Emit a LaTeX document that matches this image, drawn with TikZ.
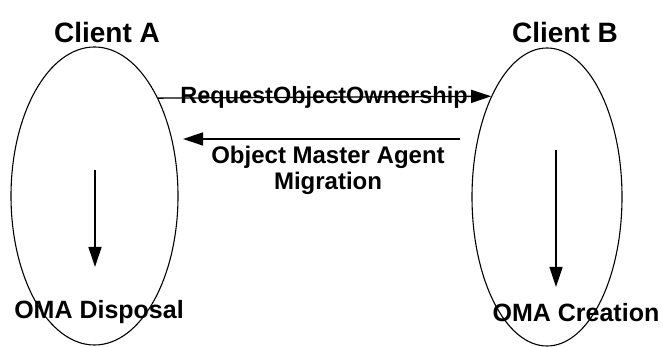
\documentclass[tikz,border=0pt]{standalone}
\usepackage{fontspec}
\setmainfont{Liberation Sans}
\usetikzlibrary{shapes.geometric,arrows.meta}
\begin{document}
\begin{tikzpicture}[x=1pt,y=1pt,
  client/.style={draw,line width=1.1pt,ellipse,inner sep=0pt},
  title/.style={font=\bfseries\fontsize{28}{30}\selectfont},
  label/.style={font=\bfseries\fontsize{24}{26}\selectfont,inner sep=0pt,align=center},
  flow/.style={line width=1.3pt,-{Triangle[length=20pt,width=13pt]}}]
  \useasboundingbox (0,0) rectangle (663,347);

  % the two clients
  \node[client,minimum width=167pt,minimum height=298pt] (A) at (94.5,151) {};
  \node[client,minimum width=150pt,minimum height=298pt] (B) at (547,150) {};
  \node[title] (tA) at (107,315) {Client A};
  \node[title] (tB) at (565,315) {Client B};

  % ownership request, A to B
  \node[label,font=\bfseries\fontsize{23.5}{26}\selectfont] (req) at (324,250) {RequestObjectOwnership};
  \draw[flow] (A.57.7) -- (B.119.2);

  % migration of the master agent, B to A
  \coordinate (mFrom) at (460,208);
  \coordinate (mTo) at (183,208);
  \draw[flow] (mFrom) -- (mTo);
  \node[label] (mig) at (328,177) {Object Master Agent\\Migration};

  % local steps inside each client
  \node[label,font=\bfseries\fontsize{25}{27}\selectfont] (disp) at (99,35) {OMA Disposal};
  \node[label,font=\bfseries\fontsize{25}{27}\selectfont] (crea) at (576,34) {OMA Creation};
  \coordinate (aTop) at (95,177);
  \coordinate (aEnd) at (95,80);
  \coordinate (bTop) at (556,197);
  \coordinate (bEnd) at (556,60);
  \draw[flow] (aTop) -- (aEnd);
  \draw[flow] (bTop) -- (bEnd);
\end{tikzpicture}
\end{document}
